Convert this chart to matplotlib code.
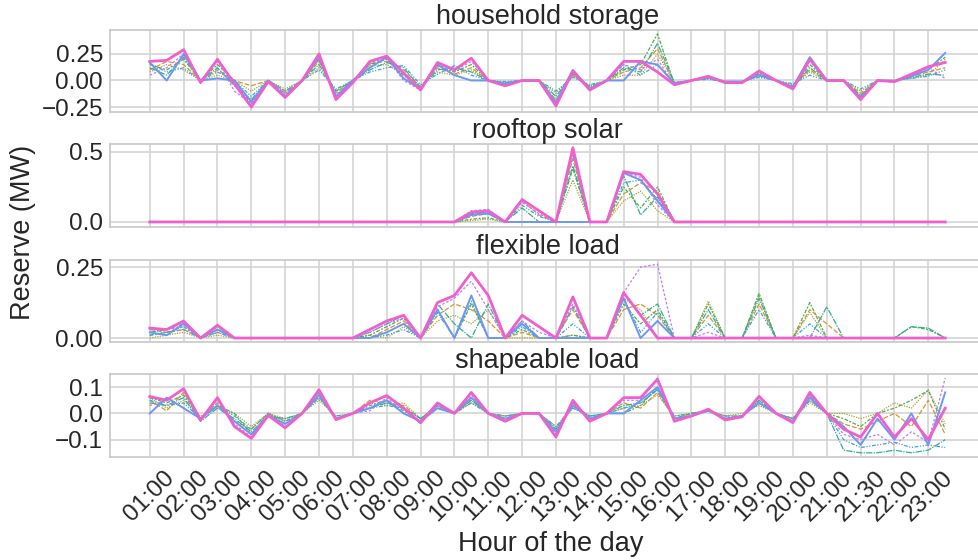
import matplotlib
matplotlib.use("Agg")
import matplotlib.pyplot as plt

# ---------------- data ----------------
tick_labels = ["01:00", "02:00", "03:00", "04:00", "05:00", "06:00", "07:00", "08:00",
               "09:00", "10:00", "11:00", "12:00", "13:00", "14:00", "15:00", "16:00",
               "17:00", "18:00", "19:00", "20:00", "21:00", "21:30", "22:00", "23:00"]
panel_titles = ["household storage", "rooftop solar", "flexible load", "shapeable load"]
series_names = ["orange", "olive", "green", "teal", "cyan", "purple", "blue", "pink"]

# household storage
hs_orange = [0.10, 0.18, 0.15, 0.00, 0.10, 0.00, -0.05, 0.00, -0.10, 0.00, 0.18, -0.12,
             0.00, 0.16, 0.18, 0.10, -0.06, 0.12, 0.06, 0.12, 0.00, -0.03, 0.00, 0.00,
             -0.18, 0.05, -0.07, 0.00, 0.08, 0.12, 0.30, -0.03, 0.00, 0.02, -0.01, -0.01,
             0.05, 0.00, -0.05, 0.10, 0.00, 0.00, -0.12, 0.00, 0.00, 0.04, 0.08, 0.12]
hs_olive = [0.08, 0.15, 0.10, 0.00, 0.05, 0.00, -0.10, 0.00, -0.08, 0.00, 0.12, -0.10,
            0.00, 0.14, 0.15, 0.06, -0.05, 0.08, 0.05, 0.10, 0.00, -0.02, 0.00, 0.00,
            -0.12, 0.04, -0.05, 0.00, 0.05, 0.05, 0.25, -0.02, 0.00, 0.02, -0.01, -0.01,
            0.04, 0.00, -0.04, 0.08, 0.00, 0.00, -0.10, 0.00, 0.00, 0.02, 0.05, 0.20]
hs_green = [0.15, 0.10, 0.20, 0.00, 0.15, 0.00, -0.22, 0.00, -0.14, 0.00, 0.20, -0.16,
            0.00, 0.15, 0.20, 0.05, -0.08, 0.14, 0.08, 0.15, 0.00, -0.04, 0.00, 0.00,
            -0.21, 0.07, -0.08, 0.00, 0.10, 0.15, 0.44, -0.04, 0.00, 0.03, -0.02, -0.02,
            0.07, 0.00, -0.07, 0.15, 0.00, 0.00, -0.15, 0.00, 0.00, 0.05, 0.10, 0.22]
hs_teal = [0.12, 0.05, 0.22, 0.00, 0.12, -0.05, -0.18, 0.00, -0.12, 0.00, 0.15, -0.10,
           0.00, 0.10, 0.17, 0.12, -0.07, 0.10, 0.12, 0.08, 0.00, -0.02, 0.00, 0.00,
           -0.15, 0.06, -0.06, 0.00, 0.12, 0.08, 0.35, -0.02, 0.00, 0.03, -0.02, -0.02,
           0.06, 0.00, -0.06, 0.12, 0.00, 0.00, -0.14, 0.00, 0.00, 0.03, 0.06, 0.05]
hs_cyan = [0.16, 0.08, 0.12, 0.00, 0.08, 0.00, -0.15, 0.00, -0.10, 0.00, 0.10, -0.08,
           0.00, 0.08, 0.12, 0.14, -0.04, 0.06, 0.14, 0.05, 0.00, -0.01, 0.00, 0.00,
           -0.10, 0.03, -0.04, 0.00, 0.15, 0.05, 0.15, -0.02, 0.00, 0.01, -0.01, -0.01,
           0.03, 0.00, -0.03, 0.05, 0.00, 0.00, -0.08, 0.00, 0.00, 0.02, 0.04, 0.10]
hs_purple = [0.05, 0.12, 0.25, 0.00, 0.18, -0.10, -0.22, 0.00, -0.12, 0.00, 0.20, -0.14,
             0.00, 0.17, 0.21, 0.00, -0.09, 0.15, 0.09, 0.18, 0.00, -0.05, 0.00, 0.00,
             -0.22, 0.08, -0.08, 0.00, 0.15, 0.10, 0.20, -0.04, 0.00, 0.04, -0.02, -0.02,
             0.08, 0.00, -0.07, 0.18, 0.00, 0.00, -0.16, 0.00, -0.01, 0.05, 0.12, 0.02]
hs_blue = [0.17, 0.00, 0.25, 0.00, 0.02, 0.00, -0.20, 0.00, -0.15, 0.00, 0.22, -0.15,
           0.00, 0.12, 0.22, 0.02, -0.08, 0.15, 0.05, 0.00, 0.00, -0.03, 0.00, 0.00,
           -0.20, 0.10, -0.08, 0.00, 0.00, 0.18, 0.15, -0.03, 0.00, 0.03, -0.01, -0.01,
           0.05, 0.00, -0.06, 0.22, 0.00, 0.00, -0.16, 0.00, -0.01, 0.04, 0.10, 0.26]
hs_pink = [0.18, 0.19, 0.29, -0.02, 0.20, -0.03, -0.25, -0.01, -0.16, 0.00, 0.25, -0.18,
           -0.02, 0.18, 0.23, 0.07, -0.09, 0.17, 0.10, 0.21, 0.00, -0.05, 0.00, 0.00,
           -0.24, 0.09, -0.09, 0.00, 0.18, 0.18, 0.08, -0.04, 0.00, 0.04, -0.02, -0.02,
           0.09, 0.00, -0.08, 0.20, 0.00, 0.00, -0.18, 0.00, -0.01, 0.06, 0.13, 0.17]

# rooftop solar
rs_orange = [0, 0, 0, 0, 0, 0, 0, 0, 0, 0, 0, 0,
             0, 0, 0, 0, 0, 0, 0.00, 0.04, 0.06, 0.00, 0.15, 0.05,
             0.00, 0.45, 0.00, 0.00, 0.20, 0.28, 0.22, 0.00, 0, 0, 0, 0,
             0, 0, 0, 0, 0, 0, 0, 0, 0, 0, 0, 0]
rs_olive = [0, 0, 0, 0, 0, 0, 0, 0, 0, 0, 0, 0,
            0, 0, 0, 0, 0, 0, 0.00, 0.01, 0.02, 0.00, 0.00, 0.00,
            0.00, 0.30, 0.00, 0.00, 0.15, 0.22, 0.08, 0.00, 0, 0, 0, 0,
            0, 0, 0, 0, 0, 0, 0, 0, 0, 0, 0, 0]
rs_green = [0, 0, 0, 0, 0, 0, 0, 0, 0, 0, 0, 0,
            0, 0, 0, 0, 0, 0, 0.00, 0.02, 0.03, 0.00, 0.00, 0.00,
            0.00, 0.38, 0.00, 0.00, 0.25, 0.10, 0.25, 0.00, 0, 0, 0, 0,
            0, 0, 0, 0, 0, 0, 0, 0, 0, 0, 0, 0]
rs_teal = [0, 0, 0, 0, 0, 0, 0, 0, 0, 0, 0, 0,
           0, 0, 0, 0, 0, 0, 0.00, 0.06, 0.07, 0.00, 0.10, 0.00,
           0.00, 0.40, 0.00, 0.00, 0.33, 0.05, 0.18, 0.00, 0, 0, 0, 0,
           0, 0, 0, 0, 0, 0, 0, 0, 0, 0, 0, 0]
rs_cyan = [0, 0, 0, 0, 0, 0, 0, 0, 0, 0, 0, 0,
           0, 0, 0, 0, 0, 0, 0.00, 0.05, 0.07, 0.00, 0.12, 0.04,
           0.00, 0.48, 0.00, 0.00, 0.28, 0.30, 0.16, 0.00, 0, 0, 0, 0,
           0, 0, 0, 0, 0, 0, 0, 0, 0, 0, 0, 0]
rs_purple = [0, 0, 0, 0, 0, 0, 0, 0, 0, 0, 0, 0,
             0, 0, 0, 0, 0, 0, 0.00, 0.08, 0.09, 0.00, 0.14, 0.06,
             0.00, 0.50, 0.00, 0.00, 0.35, 0.32, 0.12, 0.00, 0, 0, 0, 0,
             0, 0, 0, 0, 0, 0, 0, 0, 0, 0, 0, 0]
rs_blue = [0, 0, 0, 0, 0, 0, 0, 0, 0, 0, 0, 0,
           0, 0, 0, 0, 0, 0, 0.00, 0.05, 0.06, 0.00, 0.00, 0.00,
           0.00, 0.00, 0.00, 0.00, 0.35, 0.30, 0.15, 0.00, 0, 0, 0, 0,
           0, 0, 0, 0, 0, 0, 0, 0, 0, 0, 0, 0]
rs_pink = [0, 0, 0, 0, 0, 0, 0, 0, 0, 0, 0, 0,
           0, 0, 0, 0, 0, 0, 0.00, 0.07, 0.08, 0.00, 0.16, 0.08,
           0.00, 0.53, 0.00, 0.00, 0.36, 0.34, 0.20, 0.00, 0, 0, 0, 0,
           0, 0, 0, 0, 0, 0, 0, 0, 0, 0, 0, 0]

# flexible load
fl_orange = [0.03, 0.02, 0.03, 0.00, 0.02, 0, 0, 0, 0, 0, 0, 0,
             0.00, 0.00, 0.03, 0.06, 0.00, 0.08, 0.12, 0.10, 0.06, 0.00, 0.02, 0.00,
             0.00, 0.10, 0.00, 0.00, 0.10, 0.12, 0.08, 0.00, 0.00, 0.08, 0.00, 0.00,
             0.12, 0.00, 0.00, 0.10, 0.05, 0.00, 0, 0, 0, 0, 0, 0]
fl_olive = [0.00, 0.01, 0.02, 0.00, 0.01, 0, 0, 0, 0, 0, 0, 0,
            0.00, 0.01, 0.00, 0.04, 0.00, 0.06, 0.08, 0.05, 0.10, 0.00, 0.00, 0.00,
            0.00, 0.01, 0.00, 0.00, 0.14, 0.10, 0.00, 0.00, 0.00, 0.13, 0.00, 0.00,
            0.15, 0.00, 0.00, 0.09, 0.00, 0.00, 0, 0, 0, 0, 0, 0]
fl_green = [0.01, 0.02, 0.04, 0.00, 0.03, 0, 0, 0, 0, 0, 0, 0,
            0.00, 0.01, 0.04, 0.07, 0.00, 0.10, 0.00, 0.12, 0.00, 0.00, 0.03, 0.00,
            0.00, 0.01, 0.00, 0.00, 0.12, 0.05, 0.10, 0.00, 0.00, 0.12, 0.00, 0.00,
            0.158, 0.00, 0.00, 0.125, 0.00, 0.00, 0.00, 0.00, 0.00, 0.04, 0.03, 0.00]
fl_teal = [0.02, 0.03, 0.05, 0.00, 0.04, 0, 0, 0, 0, 0, 0, 0,
           0.00, 0.02, 0.05, 0.08, 0.00, 0.12, 0.05, 0.00, 0.12, 0.00, 0.06, 0.00,
           0.00, 0.11, 0.00, 0.00, 0.16, 0.08, 0.12, 0.00, 0.00, 0.10, 0.00, 0.00,
           0.14, 0.00, 0.00, 0.00, 0.11, 0.00, 0.00, 0.00, 0.00, 0.04, 0.035, 0.00]
fl_cyan = [0.01, 0.02, 0.03, 0.00, 0.02, 0, 0, 0, 0, 0, 0, 0,
           0.00, 0.00, 0.01, 0.03, 0.00, 0.09, 0.00, 0.13, 0.00, 0.00, 0.04, 0.00,
           0.00, 0.05, 0.00, 0.00, 0.14, 0.02, 0.09, 0.00, 0.00, 0.05, 0.00, 0.00,
           0.10, 0.00, 0.00, 0.05, 0.00, 0.00, 0, 0, 0, 0, 0, 0]
fl_purple = [0.03, 0.03, 0.04, 0.00, 0.03, 0, 0, 0, 0, 0, 0, 0,
             0.00, 0.02, 0.05, 0.07, 0.00, 0.11, 0.14, 0.20, 0.10, 0.00, 0.06, 0.02,
             0.00, 0.12, 0.00, 0.00, 0.16, 0.25, 0.26, 0.00, 0.00, 0.02, 0.00, 0.00,
             0, 0, 0, 0.01, 0, 0, 0, 0, 0, 0, 0, 0]
fl_blue = [0.02, 0.01, 0.05, 0.00, 0.03, 0, 0, 0, 0, 0, 0, 0,
           0.00, 0.00, 0.02, 0.05, 0.00, 0.10, 0.00, 0.15, 0.00, 0.00, 0.05, 0.00,
           0.00, 0.00, 0.00, 0.00, 0.14, 0.00, 0.06, 0.00, 0, 0, 0, 0,
           0, 0, 0, 0, 0, 0, 0, 0, 0, 0, 0, 0]
fl_pink = [0.035, 0.03, 0.06, 0.00, 0.045, 0, 0, 0, 0, 0, 0, 0,
           0.00, 0.03, 0.06, 0.08, 0.00, 0.125, 0.15, 0.23, 0.15, 0.00, 0.08, 0.04,
           0.00, 0.145, 0.00, 0.00, 0.16, 0.08, 0.00, 0.00, 0, 0, 0, 0,
           0, 0, 0, 0, 0, 0, 0, 0, 0, 0, 0, 0]

# shapeable load
sl_orange = [0.05, 0.01, 0.08, -0.02, 0.04, -0.03, -0.06, 0.00, -0.03, 0.00, 0.06, -0.02,
             0.00, 0.05, 0.04, 0.03, -0.02, 0.03, 0.00, 0.05, 0.00, -0.01, 0.00, 0.00,
             -0.06, 0.04, -0.02, 0.00, 0.04, 0.02, 0.08, -0.02, 0.00, 0.01, -0.01, -0.01,
             0.04, 0.00, -0.02, 0.05, 0.00, -0.04, -0.06, -0.03, 0.00, -0.05, 0.05, -0.08]
sl_olive = [0.06, 0.02, 0.05, -0.01, 0.02, 0.00, -0.05, 0.00, -0.02, 0.00, 0.05, -0.01,
            0.00, 0.04, 0.03, 0.04, -0.02, 0.02, 0.00, 0.04, 0.00, -0.01, 0.00, 0.00,
            -0.05, 0.02, -0.01, 0.00, 0.02, 0.03, 0.07, -0.01, 0.00, 0.01, -0.01, 0.00,
            0.03, 0.00, -0.02, 0.04, 0.00, 0.00, -0.02, 0.00, 0.04, 0.02, 0.09, -0.04]
sl_green = [0.06, 0.04, 0.07, -0.02, 0.03, 0.00, -0.08, 0.00, -0.04, 0.00, 0.07, -0.02,
            0.00, 0.03, 0.05, 0.01, -0.03, 0.03, 0.00, 0.06, 0.00, -0.02, 0.00, 0.00,
            -0.08, 0.04, -0.02, 0.00, 0.00, 0.03, 0.10, -0.02, 0.00, 0.01, -0.02, -0.01,
            0.05, 0.00, -0.03, 0.06, 0.00, -0.02, -0.05, 0.00, 0.02, 0.05, 0.087, -0.06]
sl_teal = [0.04, 0.03, 0.06, -0.03, 0.02, -0.02, -0.07, -0.01, -0.02, 0.00, 0.08, -0.02,
           0.00, 0.02, 0.04, 0.02, -0.02, 0.03, 0.00, 0.05, 0.00, -0.02, 0.00, 0.00,
           -0.06, 0.03, -0.01, 0.00, 0.03, 0.04, 0.09, -0.02, -0.01, 0.01, -0.02, -0.01,
           0.05, 0.00, -0.02, 0.07, 0.00, -0.14, -0.15, -0.15, -0.14, -0.15, -0.14, -0.10]
sl_cyan = [0.05, 0.03, 0.04, -0.02, 0.03, -0.01, -0.06, 0.00, -0.03, 0.00, 0.06, -0.01,
           0.00, 0.02, 0.03, 0.02, -0.02, 0.02, 0.00, 0.04, 0.00, -0.01, 0.00, 0.00,
           -0.05, 0.02, -0.01, 0.00, 0.02, 0.04, 0.09, -0.01, 0.00, 0.01, -0.01, -0.01,
           0.04, 0.00, -0.02, 0.05, 0.00, -0.10, -0.13, -0.12, -0.11, -0.13, -0.12, -0.13]
sl_purple = [0.03, 0.05, 0.09, -0.02, 0.05, -0.04, -0.09, 0.00, -0.05, 0.00, 0.08, -0.02,
             0.00, 0.01, 0.06, 0.00, -0.03, 0.03, 0.00, 0.07, 0.00, -0.03, 0.00, 0.00,
             -0.08, 0.05, -0.03, 0.00, 0.05, 0.05, 0.135, -0.03, -0.01, 0.015, -0.02, -0.01,
             0.06, 0.00, -0.03, 0.07, 0.00, -0.08, -0.10, -0.08, -0.12, -0.07, -0.11, 0.135]
sl_blue = [0.00, 0.06, 0.02, -0.02, 0.03, -0.03, -0.08, -0.01, -0.04, 0.00, 0.07, -0.02,
           0.00, 0.02, 0.05, 0.00, -0.03, 0.02, 0.00, 0.06, 0.00, -0.02, 0.00, 0.00,
           -0.07, 0.03, -0.02, 0.00, 0.00, 0.05, 0.10, -0.02, -0.01, 0.01, -0.02, -0.01,
           0.04, 0.00, -0.03, 0.06, 0.00, -0.05, -0.12, -0.02, -0.10, 0.00, -0.12, 0.08]
sl_pink = [0.064, 0.05, 0.094, -0.026, 0.06, -0.05, -0.095, -0.008, -0.055, 0.00, 0.09, -0.024,
           0.00, 0.04, 0.068, 0.02, -0.036, 0.04, 0.00, 0.08, 0.00, -0.03, 0.00, 0.00,
           -0.09, 0.05, -0.03, 0.00, 0.06, 0.06, 0.13, -0.03, -0.01, 0.016, -0.025, -0.013,
           0.065, 0.00, -0.035, 0.08, 0.00, -0.06, -0.09, 0.00, -0.09, -0.02, -0.10, 0.02]

panels = [
    {"orange": hs_orange, "olive": hs_olive, "green": hs_green, "teal": hs_teal,
     "cyan": hs_cyan, "purple": hs_purple, "blue": hs_blue, "pink": hs_pink},
    {"orange": rs_orange, "olive": rs_olive, "green": rs_green, "teal": rs_teal,
     "cyan": rs_cyan, "purple": rs_purple, "blue": rs_blue, "pink": rs_pink},
    {"orange": fl_orange, "olive": fl_olive, "green": fl_green, "teal": fl_teal,
     "cyan": fl_cyan, "purple": fl_purple, "blue": fl_blue, "pink": fl_pink},
    {"orange": sl_orange, "olive": sl_olive, "green": sl_green, "teal": sl_teal,
     "cyan": sl_cyan, "purple": sl_purple, "blue": sl_blue, "pink": sl_pink},
]

# ---------------- style ----------------
colors = {"orange": "#d8913a", "olive": "#a9a335", "green": "#4fae4a", "teal": "#36ad94",
          "cyan": "#3aa6d6", "purple": "#c27cf0", "blue": "#6d98f0", "pink": "#f05fcf"}
dashes = {"orange": (4, 1.5), "olive": (1, 1), "green": (3, 1.25, 1.5, 1.25),
          "teal": (5, 1, 1, 1), "cyan": (3, 1.25, 1, 1.25, 1, 1.25), "purple": (2, 1.5),
          "blue": None, "pink": None}
widths = {"blue": 1.4, "pink": 2.0}

plt.rcParams["font.family"] = ["Liberation Sans", "DejaVu Sans"]
plt.rcParams["text.color"] = ".15"
plt.rcParams["xtick.color"] = ".15"
plt.rcParams["ytick.color"] = ".15"
plt.rcParams["axes.labelcolor"] = ".15"

fig = plt.figure(figsize=(9.79, 5.60), dpi=100)
W, H = 979.0, 560.0
left_px, right_px = 110, 985
tops = [30, 144, 260, 374]
bots = [112, 227, 342, 457]
ylims = [(-0.297, 0.476), (-0.036, 0.557), (-0.014, 0.275), (-0.166, 0.150)]
yticks = [[-0.25, 0.0, 0.25], [0.0, 0.5], [0.0, 0.25], [-0.1, 0.0, 0.1]]

xs = list(range(48))
axes = []
for i in range(4):
    rect = [left_px / W, 1 - bots[i] / H, (right_px - left_px) / W, (bots[i] - tops[i]) / H]
    ax = fig.add_axes(rect, sharex=axes[0] if axes else None)
    axes.append(ax)
    ax.set_facecolor("white")
    for name in series_names:
        vals = panels[i][name]
        d = dashes[name]
        if d is None:
            ax.plot(xs, vals, color=colors[name], lw=widths[name], zorder=3)
        else:
            ax.plot(xs, vals, color=colors[name], lw=0.9, dashes=d, zorder=2)
    ax.set_ylim(*ylims[i])
    ax.set_yticks(yticks[i])
    ax.set_xlim(-2.35, 49.35)
    ax.set_xticks([2 * j for j in range(len(tick_labels))])
    ax.grid(True, color=".82", lw=1.1)
    ax.set_axisbelow(True)
    for sp in ax.spines.values():
        sp.set_color(".8")
        sp.set_linewidth(1.3)
    ax.tick_params(length=0, labelsize=17.5, pad=5)
    ax.set_title(panel_titles[i], fontsize=19.5, pad=4)
    if i < 3:
        ax.tick_params(labelbottom=False)

axes[3].set_xticklabels(tick_labels, rotation=45, ha="center")
axes[3].tick_params(axis="x", pad=7)

fig.text(0.024, 0.585, "Reserve (MW)", rotation=90, ha="center", va="center", fontsize=19.5)
fig.text(0.563, 0.028, "Hour of the day", ha="center", va="center", fontsize=19.5)

fig.savefig("out.png", dpi=100)
